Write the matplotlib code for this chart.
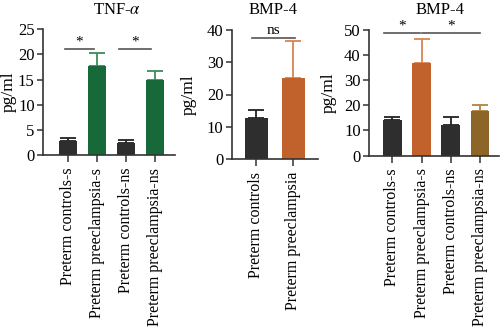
import matplotlib.pyplot as plt

plt.rcParams['font.family'] = ['Liberation Serif', 'DejaVu Serif']
plt.rcParams['mathtext.fontset'] = 'stix'

# Data
tnf_labels = ['Preterm controls-s', 'Preterm preeclampsia-s',
              'Preterm controls-ns', 'Preterm preeclampsia-ns']
tnf_means = [2.7, 17.8, 2.45, 14.9]
tnf_err = [0.6, 2.4, 0.55, 1.9]

bmp_a_labels = ['Preterm controls', 'Preterm preeclampsia']
bmp_a_means = [12.6, 25.2]
bmp_a_err = [2.6, 11.4]

bmp_b_labels = ['Preterm controls-s', 'Preterm preeclampsia-s',
                'Preterm controls-ns', 'Preterm preeclampsia-ns']
bmp_b_means = [14.0, 36.8, 12.2, 17.9]
bmp_b_err = [1.3, 9.5, 3.1, 2.3]

DARK = '#2e2e2e'
GREEN = '#17693a'
ORANGE = '#c1612b'
BROWN = '#8e6529'
ERR = {DARK: '#222222', GREEN: '#3d8c5c', ORANGE: '#d9834f', BROWN: '#b08440'}

fig = plt.figure(figsize=(5, 3.31), dpi=100)
W, H = 500, 331


def make_ax(left, right, top, bottom):
    return fig.add_axes([left / W, 1 - bottom / H, (right - left) / W, (bottom - top) / H])


def draw(ax, labels, means, errs, colors, width, xlim, ylim, yticks, lab_x):
    x = list(range(len(means)))
    ax.bar(x, means, width=width, color=colors, zorder=2)
    for xi, m, e, c in zip(x, means, errs, colors):
        ax.errorbar(xi, m, yerr=[[0], [e]], color=ERR[c], capsize=6, elinewidth=1.3,
                    capthick=1.3, zorder=1)
    ax.set_xlim(*xlim)
    ax.set_ylim(*ylim)
    ax.set_yticks(yticks)
    ax.set_xticks(x)
    ax.set_xticklabels(labels, rotation=90, fontsize=11.5)
    ax.tick_params(axis='y', labelsize=12, length=4, width=1.1, color='#333333', pad=2)
    ax.tick_params(axis='x', length=5, width=1.1, color='#333333', pad=4)
    for s in ['top', 'right']:
        ax.spines[s].set_visible(False)
    for s in ['left', 'bottom']:
        ax.spines[s].set_linewidth(1.2)
        ax.spines[s].set_color('#333333')
    ax.set_ylabel('pg/ml', fontsize=12.5)
    ax.yaxis.set_label_coords(lab_x, 0.5)
    ax.set_facecolor('none')


def sig(ax, x0, x1, y, text, dy):
    ax.plot([x0, x1], [y, y], color='#555555', lw=1.2, clip_on=False)
    ax.text((x0 + x1) / 2, y + dy, text, ha='center', va='bottom', fontsize=11)


# Panel 1: TNF-alpha
ax1 = make_ax(43, 175, 29.3, 155)
draw(ax1, tnf_labels, tnf_means, tnf_err, [DARK, GREEN, DARK, GREEN], 0.65,
     (-0.86, 3.69), (0, 25), [0, 5, 10, 15, 20, 25], -0.195)
sig(ax1, -0.1, 0.9, 21.0, '*', 0.2)
sig(ax1, 1.75, 2.85, 21.0, '*', 0.2)
fig.text(117 / W, 1 - 10 / H, 'TNF-$\\alpha$', ha='center', va='center', fontsize=12)

# Panel 2: BMP-4 (two groups)
ax2 = make_ax(231.7, 318, 30, 159)
draw(ax2, bmp_a_labels, bmp_a_means, bmp_a_err, [DARK, ORANGE], 0.63,
     (-0.67, 1.67), (0, 40), [0, 10, 20, 30, 40], -0.40)
sig(ax2, -0.12, 1.05, 37.6, 'ns', 0.2)
fig.text(273 / W, 1 - 10 / H, 'BMP-4', ha='center', va='center', fontsize=12)

# Panel 3: BMP-4 (four groups)
ax3 = make_ax(369, 499, 30, 155.5)
draw(ax3, bmp_b_labels, bmp_b_means, bmp_b_err, [DARK, ORANGE, DARK, BROWN], 0.64,
     (-0.8, 3.65), (0, 50), [0, 10, 20, 30, 40, 50], -0.25)
sig(ax3, -0.27, 0.95, 48.7, '*', 0.3)
sig(ax3, 1.03, 3.0, 48.7, '*', 0.3)
fig.text(440 / W, 1 - 10 / H, 'BMP-4', ha='center', va='center', fontsize=12)

fig.savefig('out.png', dpi=100)
